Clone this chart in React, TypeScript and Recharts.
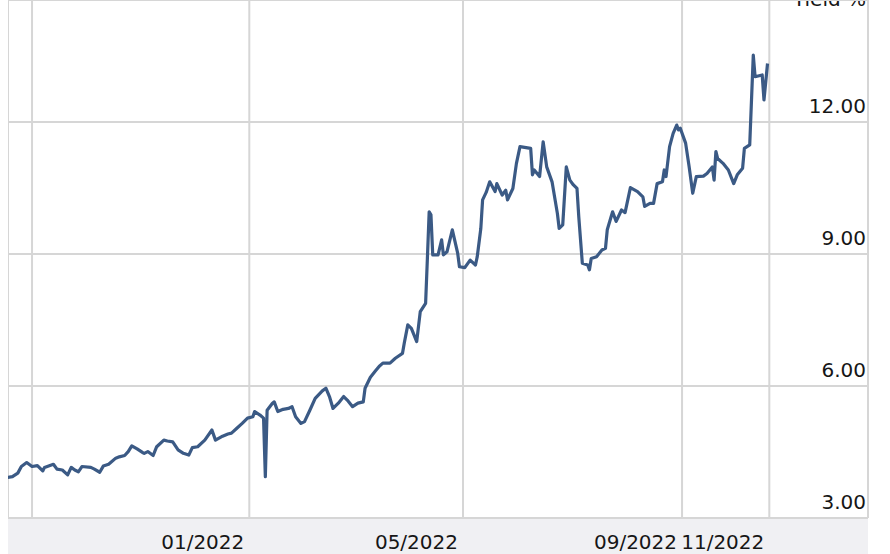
import React from "react";
import { LineChart, Line, XAxis, YAxis, CartesianGrid } from "recharts";

const dates: string[] = [
  "2021-08-18","2021-08-21","2021-08-24","2021-08-26","2021-08-29","2021-09-01","2021-09-04","2021-09-07","2021-09-08","2021-09-13",
  "2021-09-15","2021-09-18","2021-09-21","2021-09-23","2021-09-25","2021-09-27","2021-09-29","2021-10-04","2021-10-06","2021-10-09",
  "2021-10-11","2021-10-14","2021-10-18","2021-10-20","2021-10-23","2021-10-25","2021-10-27","2021-10-30","2021-11-02","2021-11-03",
  "2021-11-05","2021-11-08","2021-11-10","2021-11-14","2021-11-16","2021-11-19","2021-11-22","2021-11-25","2021-11-28","2021-11-30",
  "2021-12-03","2021-12-07","2021-12-11","2021-12-13","2021-12-17","2021-12-20","2021-12-22","2021-12-25","2021-12-28","2021-12-31",
  "2022-01-03","2022-01-04","2022-01-07","2022-01-09","2022-01-10","2022-01-11","2022-01-14","2022-01-15","2022-01-17","2022-01-20",
  "2022-01-23","2022-01-25","2022-01-27","2022-01-30","2022-02-01","2022-02-04","2022-02-07","2022-02-11","2022-02-13","2022-02-15",
  "2022-02-17","2022-02-20","2022-02-23","2022-02-25","2022-02-28","2022-03-03","2022-03-06","2022-03-07","2022-03-10","2022-03-13",
  "2022-03-15","2022-03-17","2022-03-21","2022-03-24","2022-03-28","2022-03-29","2022-03-31","2022-04-02","2022-04-05","2022-04-07",
  "2022-04-10","2022-04-11","2022-04-12","2022-04-13","2022-04-14","2022-04-17","2022-04-19","2022-04-20","2022-04-22","2022-04-25",
  "2022-04-28","2022-04-29","2022-05-02","2022-05-05","2022-05-08","2022-05-09","2022-05-11","2022-05-12","2022-05-14","2022-05-16",
  "2022-05-19","2022-05-20","2022-05-23","2022-05-25","2022-05-26","2022-05-29","2022-05-31","2022-06-02","2022-06-08","2022-06-09",
  "2022-06-10","2022-06-13","2022-06-15","2022-06-17","2022-06-20","2022-06-23","2022-06-24","2022-06-26","2022-06-28","2022-06-30",
  "2022-07-02","2022-07-04","2022-07-05","2022-07-07","2022-07-10","2022-07-11","2022-07-12","2022-07-15","2022-07-18","2022-07-20",
  "2022-07-21","2022-07-24","2022-07-26","2022-07-29","2022-07-31","2022-08-03","2022-08-07","2022-08-10","2022-08-11","2022-08-14",
  "2022-08-16","2022-08-18","2022-08-21","2022-08-22","2022-08-23","2022-08-25","2022-08-27","2022-08-29","2022-08-30","2022-08-31",
  "2022-09-03","2022-09-05","2022-09-07","2022-09-09","2022-09-13","2022-09-15","2022-09-18","2022-09-19","2022-09-20","2022-09-21",
  "2022-09-24","2022-09-27","2022-09-30","2022-10-02","2022-10-05","2022-10-06","2022-10-09","2022-10-11","2022-10-12","2022-10-16",
  "2022-10-17","2022-10-19"
];

const yields: number[] = [
  3.92,3.94,4.02,4.17,4.26,4.17,4.19,4.07,4.15,4.22,
  4.11,4.09,3.98,4.15,4.09,4.05,4.17,4.15,4.11,4.04,
  4.18,4.22,4.36,4.39,4.42,4.51,4.64,4.57,4.49,4.47,
  4.51,4.42,4.62,4.77,4.75,4.73,4.55,4.47,4.43,4.60,
  4.62,4.77,5.00,4.77,4.86,4.91,4.93,5.04,5.15,5.27,
  5.30,5.42,5.34,5.27,3.94,5.45,5.61,5.64,5.42,5.47,
  5.49,5.53,5.30,5.15,5.19,5.45,5.72,5.89,5.95,5.76,
  5.49,5.61,5.76,5.68,5.53,5.61,5.64,5.95,6.20,6.35,
  6.45,6.52,6.52,6.63,6.74,6.97,7.39,7.31,7.01,7.69,
  7.88,8.90,9.96,9.89,8.98,8.98,9.32,8.98,9.05,9.55,
  9.02,8.71,8.69,8.86,8.75,8.94,9.58,10.23,10.40,10.64,
  10.42,10.60,10.34,10.45,10.23,10.49,11.06,11.44,11.40,10.80,
  10.91,10.76,11.55,10.98,10.64,9.92,9.58,9.66,10.98,10.68,
  10.57,10.49,9.85,8.79,8.75,8.64,8.90,8.94,9.09,9.13,
  9.55,9.96,9.74,10.00,9.94,10.51,10.42,10.30,10.08,10.15,
  10.15,10.60,10.64,10.91,10.76,11.44,11.74,11.93,11.82,11.86,
  11.52,10.98,10.38,10.76,10.77,10.83,10.98,10.68,11.33,11.17,
  11.06,10.91,10.60,10.80,10.95,11.40,11.48,13.52,13.03,13.07,
  12.50,13.33
];

const yTicks: number[] = [3, 6, 9, 12];
const xTickDates: string[] = ["2021-09-01", "2022-01-01", "2022-05-01", "2022-09-01", "2022-10-20"];
const xTickLabels: string[] = ["", "01/2022", "05/2022", "09/2022", "11/2022"];
const xDomainDates: string[] = ["2021-08-18T12:00:00Z", "2022-12-14T10:00:00Z"];
const axisTitle = "Yield %";

const toMs = (s: string) => Date.parse(s.length === 10 ? s + "T00:00:00Z" : s);

const data = dates.map((d, i) => ({ t: toMs(d), y: yields[i] }));
const xTicks = xTickDates.map(toMs);
const xDomain = xDomainDates.map(toMs);

const FONT = "Verdana, 'DejaVu Sans', sans-serif";
const PLOT_W = 860;
const W = 861;
const H = 554;
const BAND_TOP = 518;

const XTick = (props: any) => {
  const { x, payload } = props;
  const idx = xTicks.indexOf(payload.value);
  const label = idx >= 0 ? xTickLabels[idx] : "";
  return (
    <text x={x - 5} y={549} textAnchor="end" fontSize={20} fontFamily={FONT} fill="#161616">
      {label}
    </text>
  );
};

const YTick = (props: any) => {
  const { y, payload } = props;
  return (
    <text x={PLOT_W - 2} y={y - 9} textAnchor="end" fontSize={20} fontFamily={FONT} fill="#161616">
      {Number(payload.value).toFixed(2)}
    </text>
  );
};

export default function App() {
  return (
    <div style={{ position: "absolute", left: 8, top: 0, width: W, height: H, overflow: "visible" }}>
      <div
        style={{
          position: "absolute",
          left: 0,
          top: BAND_TOP,
          width: PLOT_W,
          height: H - BAND_TOP,
          background: "#f0f0f3",
        }}
      />
      <div
        style={{
          position: "absolute",
          right: W - PLOT_W + 2,
          top: -11,
          fontSize: 20,
          lineHeight: "20px",
          fontFamily: FONT,
          color: "#161616",
          whiteSpace: "nowrap",
        }}
      >
        {axisTitle}
      </div>
      <LineChart
        width={W}
        height={H}
        data={data}
        margin={{ top: 0, right: 0, bottom: 0, left: 0 }}
        style={{ position: "absolute", left: 0, top: 0 }}
      >
        <CartesianGrid stroke="#d6d6d6" strokeWidth={2} />
        <XAxis
          dataKey="t"
          type="number"
          scale="time"
          domain={xDomain}
          ticks={xTicks}
          allowDataOverflow
          height={H - BAND_TOP}
          axisLine={false}
          tickLine={false}
          tick={<XTick />}
          interval={0}
        />
        <YAxis
          orientation="right"
          type="number"
          domain={[3, 14.773]}
          ticks={yTicks}
          allowDataOverflow
          width={1}
          axisLine={false}
          tickLine={false}
          tick={<YTick />}
          interval={0}
        />
        <Line
          type="linear"
          dataKey="y"
          stroke="#3b5a85"
          strokeWidth={3.2}
          strokeLinejoin="round"
          dot={false}
          isAnimationActive={false}
        />
      </LineChart>
    </div>
  );
}
